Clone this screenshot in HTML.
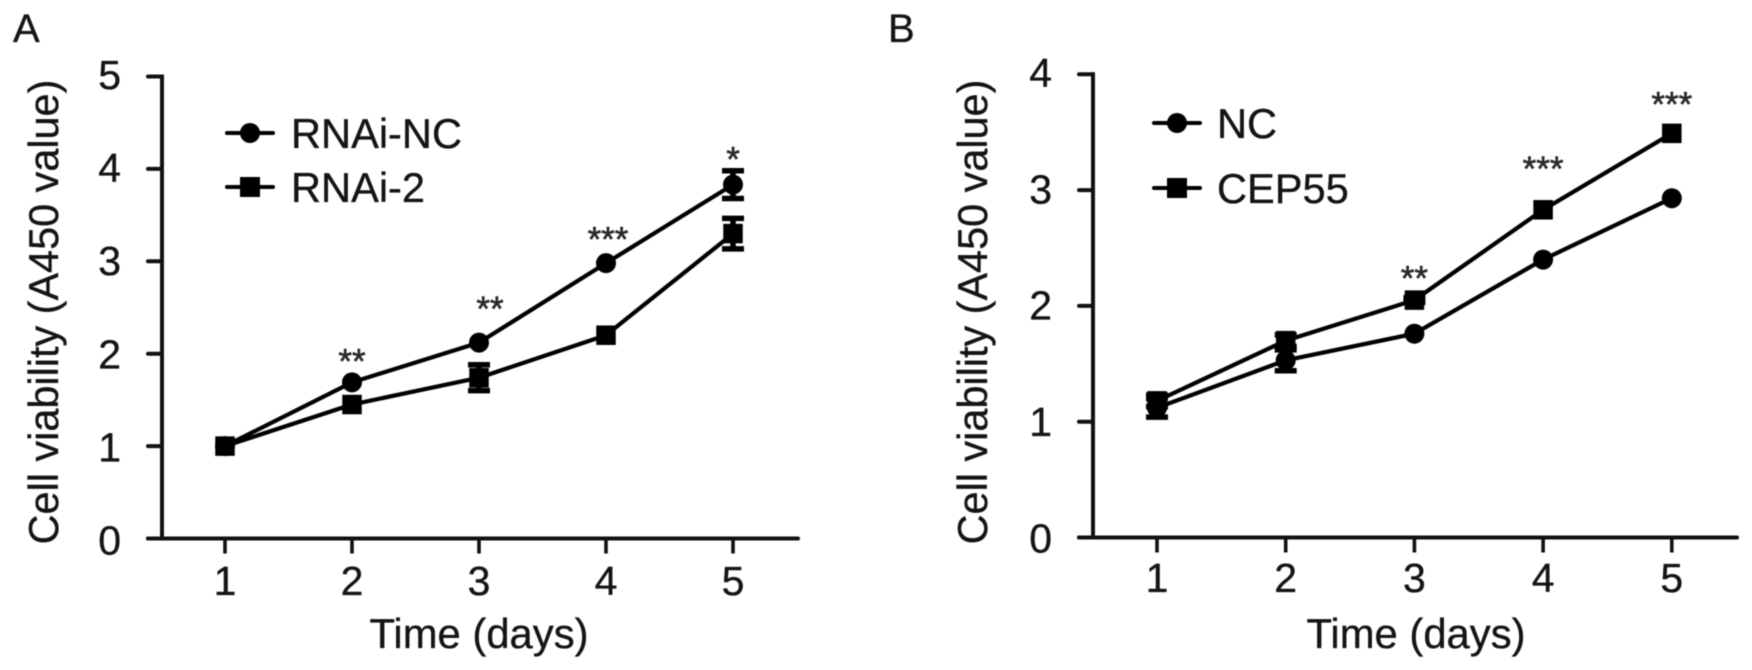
<!DOCTYPE html>
<html lang="en">
<head>
<meta charset="utf-8">
<title>Cell viability charts</title>
<style>
html,body{margin:0;padding:0;background:#fff;width:1752px;height:670px;overflow:hidden}
svg{display:block;filter:blur(0.55px)}
text{font-family:"Liberation Sans",Arial,sans-serif;fill:#141414;stroke:#141414;stroke-width:0.35px}
</style>
</head>
<body>
<svg id="figure" xmlns="http://www.w3.org/2000/svg" width="1752" height="670" viewBox="0 0 1752 670"></svg>
<script>
const days = [1, 2, 3, 4, 5];

const ticksYA = [0, 1, 2, 3, 4, 5];
const valuesNC_A = [1.00, 1.69, 2.12, 2.98, 3.83];
const errorsNC_A = [0, 0, 0, 0, 0.15];
const values2_A = [1.00, 1.45, 1.74, 2.20, 3.30];
const errors2_A = [0, 0, 0.14, 0, 0.165];
const starsA = ['', '**', '**', '***', '*'];
const starValuesA = [0, 2.0, 2.57, 3.32, 4.19];
const legendA = ['RNAi-NC', 'RNAi-2'];

const ticksYB = [0, 1, 2, 3, 4];
const valuesNC_B = [1.12, 1.53, 1.76, 2.40, 2.93];
const errorsNC_B = [0.08, 0.09, 0, 0, 0];
const valuesCEP_B = [1.18, 1.70, 2.05, 2.83, 3.49];
const errorsCEP_B = [0.05, 0.05, 0.02, 0, 0];
const starsB = ['', '', '**', '***', '***'];
const starValuesB = [0, 0, 2.305, 3.25, 3.81];
const legendB = ['NC', 'CEP55'];

const svg = document.getElementById('figure');
const NS = 'http://www.w3.org/2000/svg';
function mk(tag, attrs, parent) {
  const n = document.createElementNS(NS, tag);
  for (const k in attrs) n.setAttribute(k, attrs[k]);
  parent.appendChild(n);
  return n;
}

function drawPanel(p) {
  const xOf = d => p.x1 + (d - 1) * p.xStep;
  const yOf = v => p.y0 - v * p.yStep;
  const labelYOf = v => p.labelY0 - v * p.labelStep;
  const yMax = p.ticksY[p.ticksY.length - 1];

  let panel = mk('g', {}, svg);
  
  

  let el = mk('text', {x: p.letterX, y: 42, 'font-size': 40}, panel);
  
  
  el.textContent = p.id.toUpperCase();

  // y axis
  el = mk('line', {x1: p.axisX, x2: p.axisX, y1: yOf(yMax) - 2, y2: p.y0 + 2, stroke: '#111', 'stroke-width': 4}, panel);
  
  
  // x axis
  el = mk('line', {x1: p.axisX - 14, x2: p.xEnd, y1: p.y0, y2: p.y0, stroke: '#111', 'stroke-width': 4, 'stroke-linecap': 'round'}, panel);
  
  

  p.ticksY.forEach(t => {
    const tick = mk('line', {x1: p.axisX - 14, x2: p.axisX, y1: yOf(t), y2: yOf(t), stroke: '#111', 'stroke-width': 4, 'stroke-linecap': 'round'}, panel);
    
    
    const lab = mk('text', {x: p.axisX - 41, y: labelYOf(t), 'font-size': 41, 'text-anchor': 'end'}, panel);
    
    
    lab.textContent = t;
  });

  days.forEach(d => {
    const tick = mk('line', {x1: xOf(d), x2: xOf(d), y1: p.y0, y2: p.y0 + 15, stroke: '#111', 'stroke-width': 3.6}, panel);
    
    
    const lab = mk('text', {x: xOf(d), y: p.xLabelY, 'font-size': 41, 'text-anchor': 'middle'}, panel);
    
    
    lab.textContent = d;
  });

  el = mk('text', {x: p.xTitleX, y: 648, 'font-size': 41.8, 'text-anchor': 'middle'}, panel);
  
  
  el.textContent = 'Time (days)';

  el = mk('text', {transform: 'translate(' + p.yTitleX + ',312) rotate(-90)', 'font-size': 41.4, 'text-anchor': 'middle'}, panel);
  
  
  el.textContent = 'Cell viability (A450 value)';

  function marker(shape, cx, cy, size, parent) {
    if (shape === 'circle') return mk('circle', {cx: cx, cy: cy, r: size / 2, fill: '#000'}, parent);
    return mk('rect', {x: cx - size / 2, y: cy - size / 2, width: size, height: size, fill: '#000'}, parent);
  }

  p.series.forEach((s, si) => {
    const g = mk('g', {}, panel);
    
    

    const line = mk('polyline', {
      points: s.values.map((v, i) => xOf(days[i]) + ',' + yOf(v)).join(' '),
      fill: 'none', stroke: '#000', 'stroke-width': 4.2, 'stroke-linejoin': 'round'
    }, g);
    
    

    s.values.forEach((v, i) => {
      const cx = xOf(days[i]);
      if (s.errors[i] > 0) {
        const top = yOf(v + s.errors[i]);
        const bot = yOf(v - s.errors[i]);
        const err = mk('path', {
          d: 'M' + (cx - 11) + ' ' + top + 'H' + (cx + 11) + 'M' + (cx - 11) + ' ' + bot + 'H' + (cx + 11) + 'M' + cx + ' ' + top + 'V' + bot,
          stroke: '#000', 'stroke-width': 5.5, fill: 'none'
        }, g);
        
        
      }

      const pt = marker(s.shape, cx, yOf(v), s.shape === 'circle' ? 20 : 19.5, g);
      
      
    });

    const ly = p.legendY[si];
    const lg = mk('g', {}, panel);
    
    
    const ll = mk('line', {x1: p.legendX, x2: p.legendX + 46, y1: ly, y2: ly, stroke: '#000', 'stroke-width': 4, 'stroke-linecap': 'round'}, lg);
    
    
    const lm = marker(s.shape, p.legendX + 23, ly, 20, lg);
    
    
    const lt = mk('text', {x: p.legendTextX, y: ly + 15, 'font-size': 41.6}, lg);
    
    
    lt.textContent = p.legend[si];
  });

  p.stars.forEach((st, i) => {
    if (!st) return;
    const t = mk('text', {
      x: xOf(days[i]) + p.starDx[i], y: yOf(p.starValues[i]) + 20,
      'font-size': 35, 'text-anchor': 'middle',
      style: 'fill:#2a2a2a;stroke:#2a2a2a;stroke-width:0.6px'
    }, panel);
    
    
    t.textContent = st;
  });
}

drawPanel({
  id: 'a', letterX: 13, axisX: 162, x1: 225, xStep: 127, xEnd: 798,
  y0: 538.5, yStep: 92.4, labelY0: 554.5, labelStep: 93.1, ticksY: ticksYA, xLabelY: 595, xTitleX: 479, yTitleX: 58,
  legend: legendA, legendX: 227, legendTextX: 291, legendY: [133, 187],
  stars: starsA, starValues: starValuesA, starDx: [0, 0, 11, 2, 0],
  series: [
    {name: 'rnai-nc', shape: 'circle', values: valuesNC_A, errors: errorsNC_A},
    {name: 'rnai-2', shape: 'square', values: values2_A, errors: errors2_A}
  ]
});

drawPanel({
  id: 'b', letterX: 888, axisX: 1093, x1: 1157, xStep: 128.7, xEnd: 1737,
  y0: 537.5, yStep: 115.8, labelY0: 552.5, labelStep: 116.4, ticksY: ticksYB, xLabelY: 592, xTitleX: 1416, yTitleX: 987,
  legend: legendB, legendX: 1154, legendTextX: 1217, legendY: [123, 188],
  stars: starsB, starValues: starValuesB, starDx: [0, 0, 0, 0, 0],
  series: [
    {name: 'nc', shape: 'circle', values: valuesNC_B, errors: errorsNC_B},
    {name: 'cep55', shape: 'square', values: valuesCEP_B, errors: errorsCEP_B}
  ]
});
</script>
</body>
</html>
